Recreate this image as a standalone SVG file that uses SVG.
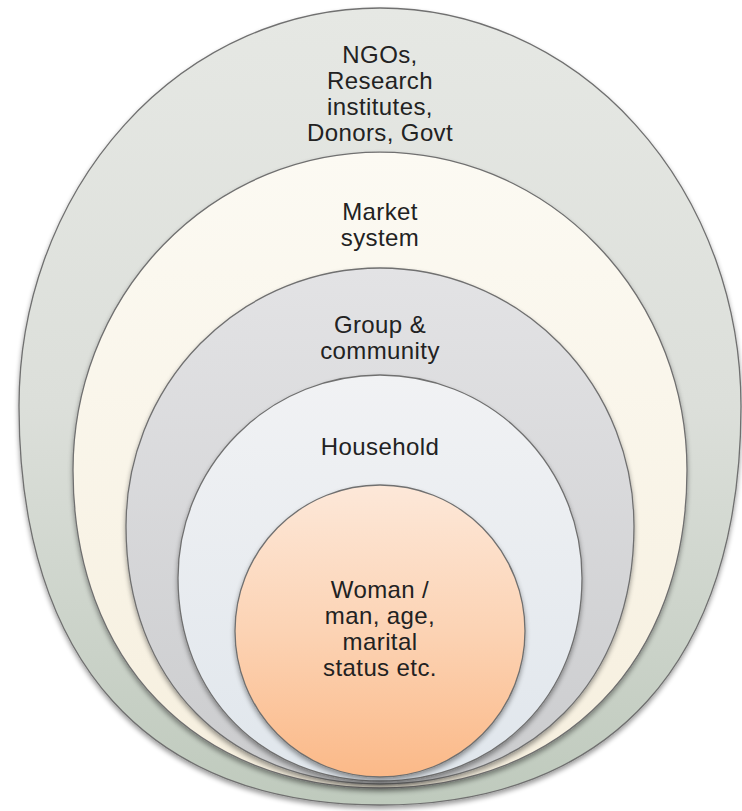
<svg xmlns="http://www.w3.org/2000/svg" width="742" height="811" viewBox="0 0 742 811">
  <defs>
    <linearGradient id="gOuter" x1="0" y1="0" x2="0" y2="1">
      <stop offset="0" stop-color="#e6e8e4"/>
      <stop offset="0.5" stop-color="#dcdfda"/>
      <stop offset="1" stop-color="#bfcabd"/>
    </linearGradient>
    <linearGradient id="gMarket" x1="0" y1="0" x2="0" y2="1">
      <stop offset="0" stop-color="#fcfaf3"/>
      <stop offset="1" stop-color="#f6efde"/>
    </linearGradient>
    <linearGradient id="gGroup" x1="0" y1="0" x2="0" y2="1">
      <stop offset="0" stop-color="#e3e3e5"/>
      <stop offset="1" stop-color="#cbccce"/>
    </linearGradient>
    <linearGradient id="gHouse" x1="0" y1="0" x2="0" y2="1">
      <stop offset="0" stop-color="#f1f2f4"/>
      <stop offset="1" stop-color="#e0e6ec"/>
    </linearGradient>
    <linearGradient id="gWoman" x1="0" y1="0" x2="0" y2="1">
      <stop offset="0" stop-color="#fde8d9"/>
      <stop offset="0.5" stop-color="#fcd3b4"/>
      <stop offset="1" stop-color="#fbb988"/>
    </linearGradient>
    <filter id="shadow" x="-10%" y="-10%" width="120%" height="125%">
      <feGaussianBlur in="SourceAlpha" stdDeviation="2.5"/>
      <feOffset dx="0" dy="3" result="b"/>
      <feComponentTransfer><feFuncA type="linear" slope="0.4"/></feComponentTransfer>
      <feMerge><feMergeNode/><feMergeNode in="SourceGraphic"/></feMerge>
    </filter>
    <style>
      .ring { stroke: #707070; stroke-width: 1.3; filter: url(#shadow); }
      .lbl { font-family: "Liberation Sans", Arial, sans-serif; font-size: 24px; fill: #222222; text-anchor: middle; letter-spacing: 0.4px; }
    </style>
  </defs>
  <rect width="742" height="811" fill="#ffffff"/>

  <g id="outer">
    <path class="ring" fill="url(#gOuter)" d="M19,406 A361,398 0 0 1 741,406 C741,661.4 611,805 380,805 C149,805 19,661.4 19,406 Z"/>
    <text class="lbl" x="380" y="63">NGOs,</text>
    <text class="lbl" x="380" y="89">Research</text>
    <text class="lbl" x="380" y="115">institutes,</text>
    <text class="lbl" x="380" y="141">Donors, Govt</text>
  </g>

  <g id="market">
    <path class="ring" fill="url(#gMarket)" d="M73,470 A307,318 0 0 1 687,470 C687,660.8 564.2,788 380,788 C195.8,788 73,660.8 73,470 Z"/>
    <text class="lbl" x="380" y="220">Market</text>
    <text class="lbl" x="380" y="246">system</text>
  </g>

  <g id="group">
    <path class="ring" fill="url(#gGroup)" d="M126,526 A254,258 0 0 1 634,526 C634,680.8 532.4,784 380,784 C227.6,784 126,680.8 126,526 Z"/>
    <text class="lbl" x="380" y="333">Group &amp;</text>
    <text class="lbl" x="380" y="359">community</text>
  </g>

  <g id="household">
    <path class="ring" fill="url(#gHouse)" d="M178,578 A202,203 0 0 1 582,578 C582,695.7 497.2,781 380,781 C262.8,781 178,695.7 178,578 Z"/>
    <text class="lbl" x="380" y="455">Household</text>
  </g>

  <g id="woman">
    <ellipse class="ring" cx="380" cy="631" rx="145" ry="146" fill="url(#gWoman)"/>
    <text class="lbl" x="380" y="598">Woman /</text>
    <text class="lbl" x="380" y="624">man, age,</text>
    <text class="lbl" x="380" y="650">marital</text>
    <text class="lbl" x="380" y="676">status etc.</text>
  </g>

  <g id="connectors"/>
</svg>
